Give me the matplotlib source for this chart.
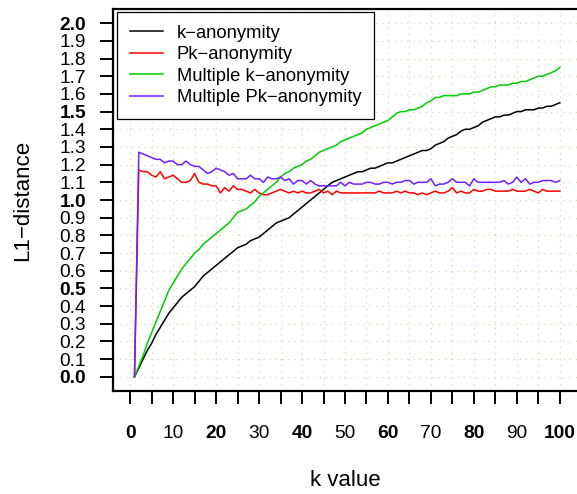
import numpy as np
import matplotlib
matplotlib.use('Agg')
import matplotlib.pyplot as plt
from matplotlib.ticker import MultipleLocator

plt.rcParams['font.family'] = ['Liberation Sans', 'DejaVu Sans']

# k = 1 .. 100
k_values = list(range(1, 101))

k_anon = [0.00, 0.05, 0.10, 0.15, 0.19, 0.24, 0.28, 0.32, 0.36, 0.39,
          0.42, 0.45, 0.47, 0.49, 0.51, 0.54, 0.57, 0.59, 0.61, 0.63,
          0.65, 0.67, 0.69, 0.71, 0.73, 0.74, 0.75, 0.77, 0.78, 0.79,
          0.81, 0.83, 0.85, 0.87, 0.88, 0.89, 0.90, 0.92, 0.94, 0.96,
          0.98, 1.00, 1.02, 1.04, 1.06, 1.08, 1.10, 1.11, 1.12, 1.13,
          1.14, 1.15, 1.16, 1.16, 1.17, 1.18, 1.18, 1.19, 1.20, 1.21,
          1.21, 1.22, 1.23, 1.24, 1.25, 1.26, 1.27, 1.28, 1.28, 1.29,
          1.31, 1.32, 1.33, 1.35, 1.36, 1.37, 1.39, 1.40, 1.40, 1.41,
          1.42, 1.44, 1.45, 1.46, 1.47, 1.47, 1.48, 1.48, 1.49, 1.50,
          1.50, 1.51, 1.51, 1.51, 1.52, 1.52, 1.53, 1.53, 1.54, 1.55]

pk_anon = [0.00, 1.17, 1.16, 1.16, 1.14, 1.13, 1.16, 1.12, 1.13, 1.14,
           1.12, 1.10, 1.10, 1.11, 1.15, 1.10, 1.09, 1.09, 1.08, 1.08,
           1.04, 1.07, 1.05, 1.08, 1.06, 1.06, 1.05, 1.04, 1.06, 1.04,
           1.03, 1.03, 1.04, 1.05, 1.06, 1.05, 1.04, 1.05, 1.04, 1.05,
           1.04, 1.04, 1.05, 1.06, 1.04, 1.05, 1.03, 1.05, 1.04, 1.04,
           1.04, 1.04, 1.04, 1.04, 1.04, 1.04, 1.04, 1.05, 1.04, 1.04,
           1.04, 1.05, 1.04, 1.05, 1.04, 1.04, 1.03, 1.04, 1.03, 1.04,
           1.05, 1.04, 1.04, 1.05, 1.07, 1.04, 1.05, 1.04, 1.04, 1.06,
           1.05, 1.05, 1.06, 1.06, 1.05, 1.05, 1.05, 1.05, 1.06, 1.05,
           1.05, 1.05, 1.06, 1.05, 1.04, 1.06, 1.05, 1.05, 1.05, 1.05]

multi_k = [0.00, 0.06, 0.12, 0.19, 0.25, 0.31, 0.37, 0.43, 0.49, 0.53,
           0.57, 0.61, 0.64, 0.67, 0.70, 0.72, 0.75, 0.77, 0.79, 0.81,
           0.83, 0.85, 0.87, 0.90, 0.93, 0.94, 0.95, 0.97, 0.99, 1.02,
           1.04, 1.06, 1.08, 1.10, 1.13, 1.15, 1.16, 1.18, 1.19, 1.20,
           1.22, 1.23, 1.25, 1.27, 1.28, 1.29, 1.30, 1.31, 1.33, 1.34,
           1.35, 1.36, 1.37, 1.38, 1.40, 1.41, 1.42, 1.43, 1.44, 1.45,
           1.47, 1.49, 1.50, 1.50, 1.51, 1.51, 1.52, 1.53, 1.55, 1.56,
           1.58, 1.58, 1.59, 1.59, 1.59, 1.59, 1.60, 1.60, 1.60, 1.61,
           1.61, 1.62, 1.63, 1.64, 1.64, 1.65, 1.65, 1.65, 1.66, 1.66,
           1.67, 1.67, 1.68, 1.69, 1.70, 1.70, 1.71, 1.72, 1.73, 1.75]

multi_pk = [0.00, 1.27, 1.26, 1.25, 1.24, 1.23, 1.23, 1.21, 1.22, 1.22,
            1.20, 1.20, 1.22, 1.20, 1.19, 1.19, 1.17, 1.15, 1.16, 1.18,
            1.17, 1.16, 1.14, 1.15, 1.12, 1.12, 1.12, 1.14, 1.12, 1.12,
            1.10, 1.13, 1.12, 1.12, 1.13, 1.11, 1.12, 1.09, 1.11, 1.11,
            1.09, 1.11, 1.09, 1.08, 1.08, 1.08, 1.08, 1.08, 1.10, 1.08,
            1.10, 1.09, 1.09, 1.09, 1.10, 1.10, 1.09, 1.09, 1.10, 1.10,
            1.09, 1.10, 1.10, 1.11, 1.11, 1.09, 1.10, 1.10, 1.10, 1.12,
            1.08, 1.09, 1.09, 1.10, 1.12, 1.10, 1.10, 1.10, 1.08, 1.12,
            1.10, 1.10, 1.10, 1.10, 1.10, 1.10, 1.11, 1.09, 1.10, 1.13,
            1.10, 1.12, 1.09, 1.10, 1.10, 1.11, 1.11, 1.11, 1.10, 1.11]

series = [
    ('k\u2212anonymity', k_anon, 'black'),
    ('Pk\u2212anonymity', pk_anon, '#ff0000'),
    ('Multiple k\u2212anonymity', multi_k, '#00cd00'),
    ('Multiple Pk\u2212anonymity', multi_pk, '#7020ff'),
]

fig = plt.figure(figsize=(5.77, 4.94), dpi=100)
ax = fig.add_axes([113 / 577, 103 / 494, 464 / 577, 382 / 494])

for label, vals, color in series:
    ax.plot(k_values, vals, color=color, lw=1.1, label=label)

ax.set_xlim(-4, 104)
ax.set_ylim(-0.08, 2.08)

# ticks every 5 on x, labels every 10; bold every 20 / every 0.5
ax.xaxis.set_major_locator(MultipleLocator(5))
ax.set_yticks(np.round(np.arange(0, 2.01, 0.1), 1))
ax.grid(True, color='#ddd6b8', linestyle=(0, (1, 4)), linewidth=0.9)
ax.set_axisbelow(True)

xt = ax.get_xticks()
ax.set_xticklabels([str(int(t)) if int(round(t)) % 10 == 0 else '' for t in xt])
ax.set_yticklabels(['%.1f' % t for t in ax.get_yticks()])
for lbl, t in zip(ax.get_xticklabels(), xt):
    if int(round(t)) % 20 == 0:
        lbl.set_fontweight('bold')
for lbl, t in zip(ax.get_yticklabels(), ax.get_yticks()):
    if int(round(t * 10)) % 5 == 0:
        lbl.set_fontweight('bold')

ax.tick_params(axis='both', direction='out', length=9.5, width=1.4, labelsize=13.8)
ax.tick_params(axis='x', pad=15)
ax.tick_params(axis='y', pad=10)

for side in ['left', 'top', 'bottom']:
    ax.spines[side].set_linewidth(1.6)
ax.spines['right'].set_visible(False)

ax.set_xlabel('k value', fontsize=16)
ax.xaxis.set_label_coords(0.5, -0.207)
ax.set_ylabel('L1\u2212distance', fontsize=16)
ax.yaxis.set_label_coords(-0.172, 0.5)

leg = ax.legend(loc='upper left', bbox_to_anchor=(4 / 464, 1 - 3 / 382),
                fontsize=13.2, frameon=True, fancybox=False, framealpha=1,
                edgecolor='black', borderpad=0.7, labelspacing=0.24,
                handlelength=1.8, handletextpad=0.75, borderaxespad=0)
leg.get_frame().set_linewidth(0.9)

fig.savefig('out.png', dpi=100)
